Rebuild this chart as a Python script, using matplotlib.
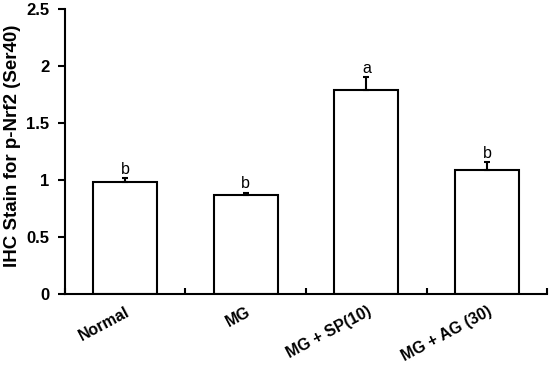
import matplotlib
matplotlib.use('Agg')
import matplotlib.pyplot as plt
import numpy as np

plt.rcParams['font.family'] = ['Liberation Sans', 'DejaVu Sans']

groups = ['Normal', 'MG', 'MG + SP(10)', 'MG + AG (30)']
means = [0.98, 0.87, 1.79, 1.09]
errors = [0.04, 0.02, 0.11, 0.07]
letters = ['b', 'b', 'a', 'b']

fig = plt.figure(figsize=(5.5, 3.66), dpi=100)
ax = fig.add_axes([0.118, 0.197, 0.877, 0.778])

x = np.arange(len(groups))
ax.bar(x, means, width=0.53, color='white', edgecolor='black', linewidth=1.5)
ax.errorbar(x, means, yerr=[np.zeros(len(errors)), errors], fmt='none',
            ecolor='black', elinewidth=1.5, capsize=2, capthick=1.5)
for xi, m, e, l in zip(x, means, errors, letters):
    ax.text(xi, m + e + 0.01, l, ha='center', va='bottom', fontsize=11.5)

ax.set_xlim(-0.5, 3.5)
ax.set_ylim(0, 2.5)
ax.set_yticks([0, 0.5, 1, 1.5, 2, 2.5])
ax.set_yticklabels(['0', '0.5', '1', '1.5', '2', '2.5'], fontsize=12, fontweight='bold')
ax.set_xticks(np.arange(-0.5, 4, 1))
ax.set_xticklabels([])
ax.tick_params(axis='x', direction='in', length=4, width=1.5)
ax.tick_params(axis='y', direction='out', length=5, width=1.5, pad=6)
for xi, g in zip(x, groups):
    ax.text(xi, -0.09, g, rotation=28, ha='right', va='top', fontsize=11.5,
            fontweight='bold', transform=ax.transData, rotation_mode='anchor')
ax.set_ylabel('IHC Stain for p-Nrf2 (Ser40)', fontsize=13.5, fontweight='bold')
ax.yaxis.set_label_coords(-0.092, 0.52)
for s in ['top', 'right']:
    ax.spines[s].set_visible(False)
for s in ['left', 'bottom']:
    ax.spines[s].set_linewidth(1.5)

fig.savefig('out.png', dpi=100)
